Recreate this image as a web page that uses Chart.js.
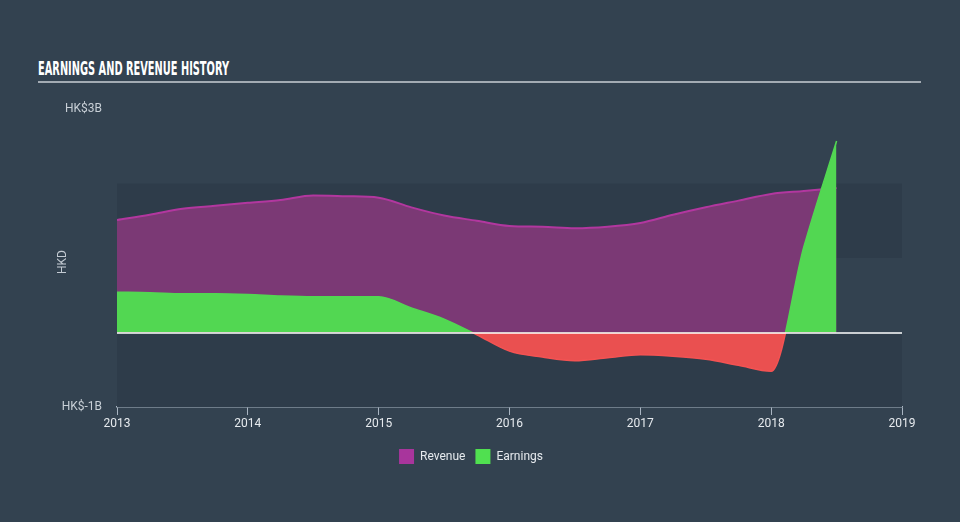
<!DOCTYPE html>
<html>
<head>
<meta charset="utf-8">
<script src="https://cdn.jsdelivr.net/npm/chart.js@4/dist/chart.umd.min.js"></script>
<style>
  html, body { margin: 0; padding: 0; background: #334250; }
  #wrap { position: relative; width: 960px; height: 522px; overflow: hidden; }
  #title { position: absolute; left: 38px; top: 56px; font-family: "Liberation Sans Narrow", "DejaVu Sans Condensed", sans-serif; font-weight: bold; font-size: 20px; color: #ffffff; white-space: nowrap; transform-origin: 0 0; letter-spacing: 0; }
  #rule { position: absolute; left: 38px; top: 81px; width: 883px; height: 2px; background: #a3abb3; }
  canvas { position: absolute; left: 0; top: 0; }
</style>
</head>
<body>
<div id="wrap">
  <div id="title">EARNINGS AND REVENUE HISTORY</div>
  <div id="rule"></div>
  <canvas id="c" width="960" height="522"></canvas>
</div>
<script>
// ---- data (HK$ billions) ----
const dates = [2013.0, 2013.25, 2013.5, 2013.75, 2014.0, 2014.25, 2014.5, 2014.75, 2015.0, 2015.25, 2015.5, 2015.75, 2016.0, 2016.25, 2016.5, 2016.75, 2017.0, 2017.25, 2017.5, 2017.75, 2018.0, 2018.25, 2018.5];
const revenue = [1.51, 1.58, 1.66, 1.70, 1.74, 1.78, 1.84, 1.83, 1.81, 1.68, 1.57, 1.50, 1.43, 1.42, 1.40, 1.42, 1.47, 1.58, 1.68, 1.77, 1.86, 1.90, 1.94];
const earnings = [0.54, 0.535, 0.52, 0.52, 0.51, 0.49, 0.48, 0.48, 0.48, 0.33, 0.18, -0.03, -0.25, -0.33, -0.38, -0.34, -0.30, -0.32, -0.36, -0.44, -0.52, 1.15, 2.57];
const xTicks = [2013, 2014, 2015, 2016, 2017, 2018, 2019];
const yTicks = [-1, 3];
const yTickLabels = ['HK$-1B', 'HK$3B'];
const seriesNames = ['Revenue', 'Earnings'];

// fit title width
const t = document.getElementById('title');
const w = t.getBoundingClientRect().width;
t.style.transform = 'scaleX(' + (191 / w) + ')';

const FONT = "Roboto, 'Open Sans', sans-serif";
const GREEN = '#52d752', RED = '#ea5050';

function earningsBorder(ctx) {
  const chart = ctx.chart;
  const {chartArea, scales} = chart;
  if (!chartArea || !scales.y) return GREEN;
  const y0 = scales.y.getPixelForValue(0);
  const g = chart.ctx.createLinearGradient(0, chartArea.top, 0, chartArea.bottom);
  const s = Math.min(Math.max((y0 - chartArea.top) / (chartArea.bottom - chartArea.top), 0), 1);
  g.addColorStop(0, GREEN);
  g.addColorStop(s, GREEN);
  g.addColorStop(s, '#f45252');
  g.addColorStop(1, '#f45252');
  return g;
}

const bgPlugin = {
  id: 'bands',
  beforeDatasetsDraw(chart) {
    const {ctx, chartArea, scales: {y}} = chart;
    ctx.save();
    ctx.fillStyle = '#2e3c4a';
    const bands = [[-1, 0], [1, 2]];
    bands.forEach(([a, b]) => {
      const y1 = y.getPixelForValue(b), y2 = y.getPixelForValue(a);
      ctx.fillRect(chartArea.left, y1, chartArea.right - chartArea.left, y2 - y1);
    });
    ctx.restore();
  },
  afterDatasetsDraw(chart) {
    const {ctx, chartArea, scales: {y}} = chart;
    const y0 = Math.round(y.getPixelForValue(0));
    ctx.save();
    ctx.strokeStyle = '#ffffff';
    ctx.lineWidth = 1.5;
    ctx.beginPath();
    ctx.moveTo(chartArea.left, y0);
    ctx.lineTo(chartArea.right, y0);
    ctx.stroke();
    // axis title
    ctx.fillStyle = '#c3cad2';
    ctx.font = '12px ' + FONT;
    ctx.textAlign = 'center';
    ctx.textBaseline = 'middle';
    ctx.translate(63, (chartArea.top + chartArea.bottom) / 2 + 4);
    ctx.rotate(-Math.PI / 2);
    ctx.fillText('HKD', 0, 0);
    ctx.restore();
  }
};

new Chart(document.getElementById('c'), {
  type: 'line',
  data: {
    datasets: [
      {
        label: seriesNames[0],
        data: dates.map((d, i) => ({x: d, y: revenue[i]})),
        borderColor: '#b2379f',
        borderWidth: 2,
        backgroundColor: '#7b3975',
        fill: 'origin',
        pointRadius: 0,
        cubicInterpolationMode: 'monotone',
        order: 2
      },
      {
        label: seriesNames[1],
        data: dates.map((d, i) => ({x: d, y: earnings[i]})),
        borderColor: earningsBorder,
        borderWidth: 1.5,
        backgroundColor: GREEN,
        fill: { target: 'origin', above: GREEN, below: RED },
        pointRadius: 0,
        cubicInterpolationMode: 'monotone',
        order: 1
      }
    ]
  },
  options: {
    responsive: false,
    animation: false,
    events: [],
    layout: { padding: { top: 109, right: 58, bottom: 48, left: 40 } },
    scales: {
      x: {
        type: 'linear',
        min: 2013, max: 2019,
        afterBuildTicks: s => { s.ticks = xTicks.map(v => ({value: v})); },
        afterFit: s => { s.height = 32; },
        ticks: { color: '#e6eaee', font: { size: 12, family: FONT }, padding: 2, maxRotation: 0, callback: v => String(v) },
        grid: { drawOnChartArea: false, drawTicks: true, tickLength: 8, color: '#a9b5c2', lineWidth: 1 },
        border: { display: true, color: '#a9b5c2', width: 1.5 }
      },
      y: {
        min: -1, max: 3,
        afterBuildTicks: s => { s.ticks = yTicks.map(v => ({value: v})); },
        afterFit: s => { s.width = 77; },
        ticks: { color: '#c8cfd6', font: { size: 12, family: FONT }, padding: 15,
          callback: v => yTickLabels[yTicks.indexOf(v)] },
        grid: { display: false, drawTicks: false, tickLength: 0 },
        border: { display: false }
      }
    },
    plugins: {
      legend: {
        position: 'bottom',
        labels: {
          boxWidth: 15, boxHeight: 15, padding: 10,
          color: '#e6eaee', font: { size: 12, family: FONT },
          sort: (a, b) => a.datasetIndex - b.datasetIndex,
          generateLabels: chart => chart.data.datasets.map((ds, i) => ({
            text: ds.label, fillStyle: i === 0 ? '#a8359c' : '#50e050', strokeStyle: 'transparent', lineWidth: 0, datasetIndex: i, fontColor: '#e6eaee'
          }))
        }
      },
      tooltip: { enabled: false }
    }
  },
  plugins: [bgPlugin]
});
</script>
</body>
</html>
